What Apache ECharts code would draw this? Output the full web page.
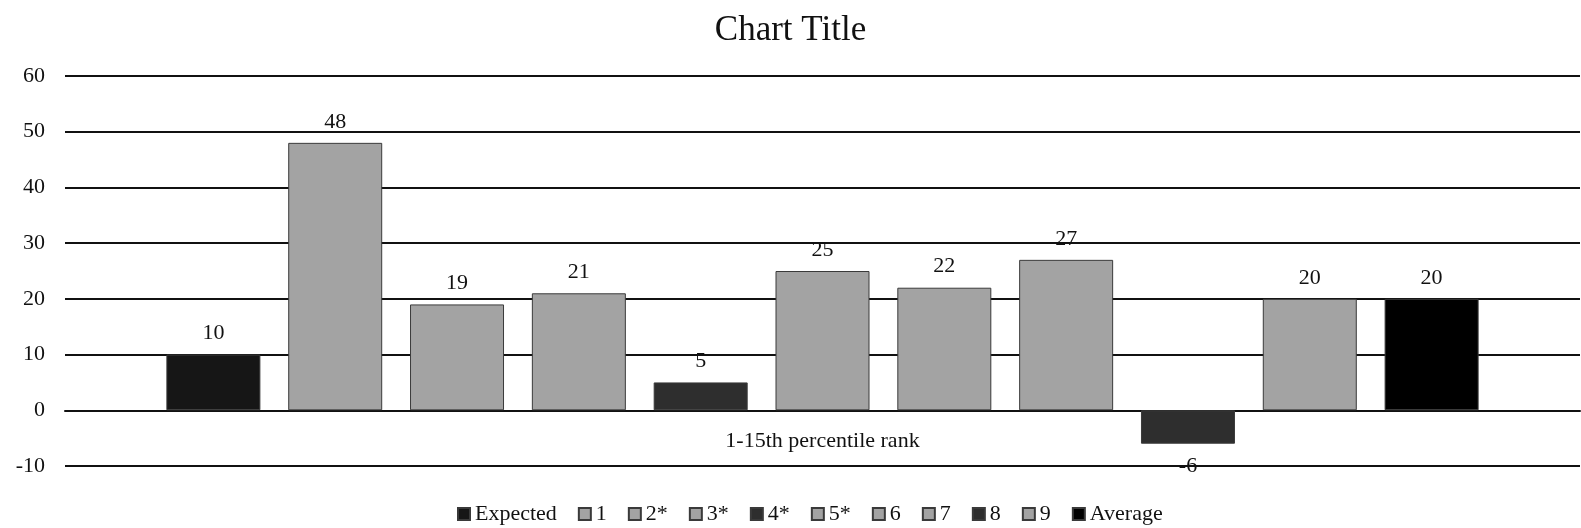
<!DOCTYPE html>
<html>
<head>
<meta charset="utf-8">
<script src="https://cdn.jsdelivr.net/npm/echarts@6/dist/echarts.min.js"></script>
<style>
  html, body { margin: 0; padding: 0; background: #fff; }
  #chart { width: 1581px; height: 528px; }
</style>
</head>
<body>
<div id="chart"></div>
<script>
var categories = ['1-15th percentile rank'];
var seriesNames = ['Expected', '1', '2*', '3*', '4*', '5*', '6', '7', '8', '9', 'Average'];
var seriesValues = [10, 48, 19, 21, 5, 25, 22, 27, -6, 20, 20];
var seriesColors = ['#161616', '#a3a3a3', '#a3a3a3', '#a3a3a3', '#2e2e2e', '#a3a3a3',
  '#a3a3a3', '#a3a3a3', '#2e2e2e', '#a3a3a3', '#000000'];
var yTicks = { min: -10, max: 60, interval: 10 };

var font = '"Liberation Serif", "DejaVu Serif", serif';

var gridTop = 76, gridBottom = 62, chartHeight = 528;
// lift the category axis up to the zero line
var zeroOffset = -(0 - yTicks.min) / (yTicks.max - yTicks.min) * (chartHeight - gridTop - gridBottom);

var chart = echarts.init(document.getElementById('chart'));

var series = seriesNames.map(function (name, i) {
  var v = seriesValues[i];
  return {
    name: name,
    type: 'bar',
    barWidth: 94,
    barGap: '29.6%',
    itemStyle: {
      color: seriesColors[i],
      borderColor: '#3a3a3a',
      borderWidth: 1
    },
    label: {
      show: true,
      position: v < 0 ? 'bottom' : 'top',
      distance: v < 0 ? 12 : 10,
      color: '#111',
      fontFamily: font,
      fontSize: 22
    },
    data: [v]
  };
});

var option = {
  animation: false,
  backgroundColor: '#fff',
  title: {
    text: 'Chart Title',
    left: 'center',
    top: 8,
    textStyle: {
      fontFamily: font,
      fontWeight: 'normal',
      fontSize: 35,
      color: '#111'
    }
  },
  legend: {
    data: seriesNames,
    bottom: -2,
    left: 452,
    itemWidth: 12,
    itemHeight: 12,
    itemGap: 21,
    icon: 'rect',
    textStyle: {
      fontFamily: font,
      fontSize: 22,
      color: '#111'
    }
  },
  grid: {
    left: 65,
    right: 1,
    top: gridTop,
    bottom: gridBottom
  },
  xAxis: {
    type: 'category',
    data: categories,
    offset: zeroOffset,
    axisTick: { show: false },
    axisLine: { onZero: false, lineStyle: { color: '#111', width: 2 } },
    axisLabel: {
      margin: 20,
      fontFamily: font,
      fontSize: 22,
      color: '#111'
    }
  },
  yAxis: {
    type: 'value',
    min: yTicks.min,
    max: yTicks.max,
    interval: yTicks.interval,
    axisLine: { show: false },
    axisTick: { show: false },
    axisLabel: {
      margin: 20,
      fontFamily: font,
      fontSize: 22,
      color: '#111'
    },
    splitLine: {
      lineStyle: { color: '#111', width: 2 }
    }
  },
  series: series
};

chart.setOption(option);
</script>
</body>
</html>
